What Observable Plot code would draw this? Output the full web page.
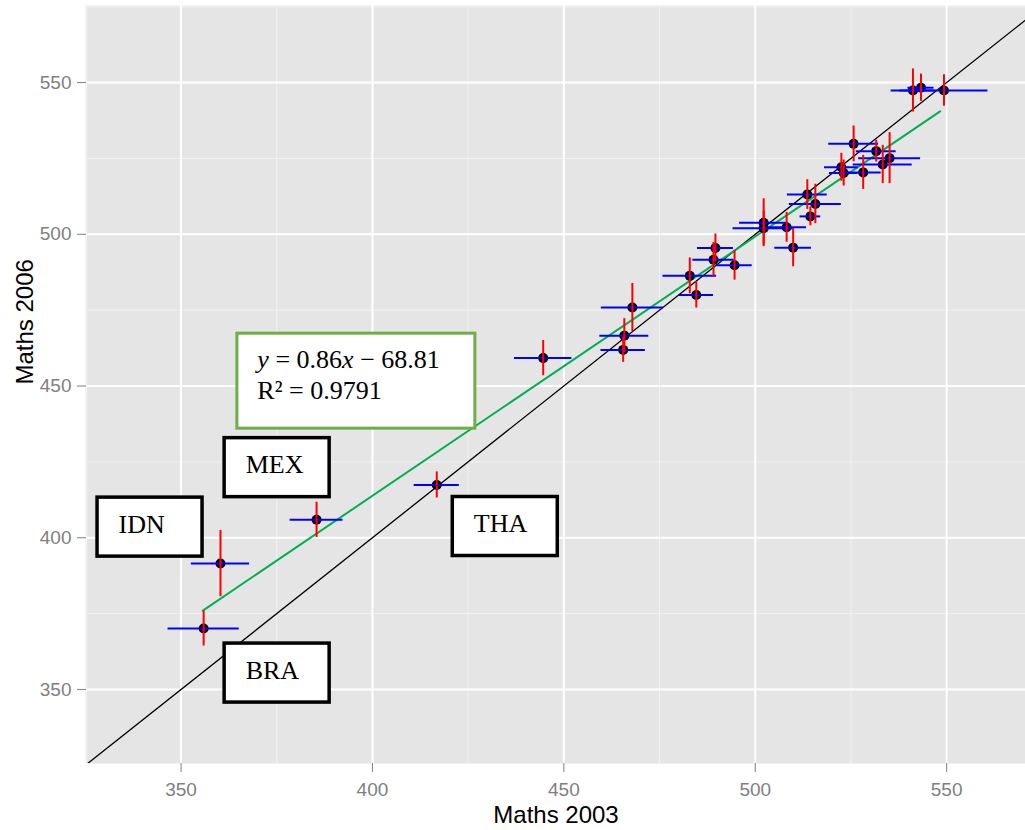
<!DOCTYPE html>
<html>
<head>
<meta charset="utf-8">
<script src="https://cdn.jsdelivr.net/npm/d3@7"></script>
<script src="https://cdn.jsdelivr.net/npm/@observablehq/plot@0.6"></script>
<style>
  body { margin: 0; background: #ffffff; }
  #chart svg { display: block; }
</style>
</head>
<body>
<div id="chart"></div>
<script>
// ---- data ----
const maths2003 = [355.9, 360.3, 385.4, 416.8, 444.6, 465.8, 465.5, 467.9, 484.6, 482.9,
                   489.6, 489.1, 494.6, 502.2, 502.2, 508.2, 509.9, 513.6, 515.7, 514.4,
                   525.7, 522.5, 523.1, 528.2, 531.6, 533.3, 535.1, 541.2, 543.3, 549.3];
const maths2006 = [370.1, 391.5, 405.9, 417.4, 459.2, 466.6, 461.9, 475.9, 480.0, 486.3,
                   495.5, 491.6, 489.8, 503.8, 502.0, 502.3, 495.6, 513.1, 510.0, 505.9,
                   529.8, 522.1, 520.2, 520.4, 527.4, 523.0, 525.1, 547.4, 548.3, 547.4];
const err2003 = [9.3, 7.6, 6.9, 5.9, 7.5, 6.4, 5.8, 8.1, 4.5, 7.0,
                 4.7, 5.4, 4.6, 6.3, 8.0, 5.2, 4.8, 5.2, 6.8, 2.7,
                 6.5, 4.4, 3.7, 4.7, 5.2, 7.7, 8.1, 5.7, 3.4, 11.5];
const err2006 = [5.8, 10.9, 5.8, 4.3, 5.8, 5.6, 4.1, 7.9, 4.3, 5.9,
                 4.6, 5.7, 4.9, 7.9, 5.6, 4.9, 6.3, 4.9, 6.5, 3.1,
                 5.9, 4.6, 4.3, 5.6, 3.6, 6.3, 8.4, 7.1, 4.5, 5.2];

const labelNames = ["IDN", "MEX", "THA", "BRA"];
const labelX = [341.9, 375.1, 434.7, 375.1];
const labelY = [403.5, 423.1, 403.7, 355.4];

const fitX = [355.7, 548.3];
const fitY = [376.0, 540.5];
const refRange = [300, 600];

const eqLine1 = "y = 0.86x \u2212 68.81";
const eqLine2 = "R\u00B2 = 0.9791";
const eqX = [395.8];
const eqY = [451.6];

const xTicks = [350, 400, 450, 500, 550];
const yTicks = [350, 400, 450, 500, 550];
const xMinor = [325, 375, 425, 475, 525];
const yMinor = [375, 425, 475, 525, 575];

const xTitle = "Maths 2003";
const yTitle = "Maths 2006";

// ---- tables ----
const points = maths2003.map((x, i) => ({x, y: maths2006[i], ex: err2003[i], ey: err2006[i]}));
const labels = labelNames.map((name, i) => ({name, x: labelX[i], y: labelY[i]}));
const fit = fitX.map((x, i) => ({x, y: fitY[i]}));
const ref = refRange.map(v => ({v}));
const eq = eqX.map((x, i) => ({x, y: eqY[i]}));

// layout
const W = 1025, H = 830, mL = 86, mR = 0, mT = 5, mB = 67;
const xDom = [325.3, 570.6], yDom = [325.6, 575.4];
const kx = (W - mL - mR) / (xDom[1] - xDom[0]);
const ky = (H - mT - mB) / (yDom[1] - yDom[0]);
const boxHW = 52.5 / kx, boxHH = 29.5 / ky;
const eqHW = 119 / kx, eqHH = 47.5 / ky;

const serif = "Liberation Serif, Times New Roman, serif";

const chart = Plot.plot({
  width: W, height: H,
  marginLeft: mL, marginRight: mR, marginTop: mT, marginBottom: mB,
  x: {domain: xDom},
  y: {domain: yDom},
  style: {fontFamily: "Liberation Sans, Arial, sans-serif", background: "#ffffff"},
  marks: [
    Plot.frame({fill: "#E5E5E5", stroke: null}),
    Plot.gridX({ticks: xMinor, stroke: "#F2F2F2", strokeOpacity: 1, strokeWidth: 1}),
    Plot.gridY({ticks: yMinor, stroke: "#F2F2F2", strokeOpacity: 1, strokeWidth: 1}),
    Plot.gridX({ticks: xTicks, stroke: "#FFFFFF", strokeOpacity: 1, strokeWidth: 2}),
    Plot.gridY({ticks: yTicks, stroke: "#FFFFFF", strokeOpacity: 1, strokeWidth: 2}),
    Plot.line(ref, {x: "v", y: "v", stroke: "black", strokeWidth: 1.3, clip: true}),
    Plot.line(fit, {x: "x", y: "y", stroke: "#00B050", strokeWidth: 2}),
    Plot.dot(points, {x: "x", y: "y", r: 5, fill: "black", stroke: null}),
    Plot.ruleY(points, {y: "y", x1: d => d.x - d.ex, x2: d => d.x + d.ex, stroke: "#0000FF", strokeWidth: 2}),
    Plot.ruleX(points, {x: "x", y1: d => d.y - d.ey, y2: d => d.y + d.ey, stroke: "#FF0000", strokeWidth: 2}),
    Plot.rect(labels, {x1: d => d.x - boxHW, x2: d => d.x + boxHW, y1: d => d.y - boxHH, y2: d => d.y + boxHH,
                       fill: "white", stroke: "black", strokeWidth: 3.5}),
    Plot.text(labels, {x: "x", y: "y", text: "name", textAnchor: "start", dx: -31.5, dy: -2.8,
                       fontSize: 26, fontFamily: serif, fill: "black"}),
    Plot.rect(eq, {x1: d => d.x - eqHW, x2: d => d.x + eqHW, y1: d => d.y - eqHH, y2: d => d.y + eqHH,
                   fill: "white", stroke: "#70AD47", strokeWidth: 3}),
    Plot.text(eq, {x: "x", y: "y", text: () => eqLine1, textAnchor: "start", dx: -99, dy: -21.4,
                   fontSize: 26, fontFamily: serif, fill: "black"}),
    Plot.text(eq, {x: "x", y: "y", text: () => eqLine2, textAnchor: "start", dx: -99, dy: 9.9,
                   fontSize: 26, fontFamily: serif, fill: "black"}),
    Plot.axisX({ticks: xTicks, tickSize: 9, tickPadding: 10, fontSize: 19, color: "#7F7F7F", label: null}),
    Plot.axisY({ticks: yTicks, tickSize: 9, tickPadding: 6, fontSize: 19, color: "#7F7F7F", label: null}),
    Plot.text([xTitle], {frameAnchor: "bottom", dy: 59.5, fontSize: 24, fill: "black"}),
    Plot.text([yTitle], {frameAnchor: "left", rotate: -90, dx: -61, fontSize: 24, fill: "black"})
  ]
});

// italic variables in the equation
d3.select(chart).selectAll("text").each(function() {
  if (this.textContent === eqLine1) {
    const t = d3.select(this);
    t.text(null);
    const parts = [["y", true], [" = 0.86", false], ["x", true], [" \u2212 68.81", false]];
    for (const [s, it] of parts) {
      const sp = t.append("tspan").text(s);
      if (it) sp.attr("font-style", "italic");
    }
  }
});

document.getElementById("chart").appendChild(chart);
</script>
</body>
</html>
